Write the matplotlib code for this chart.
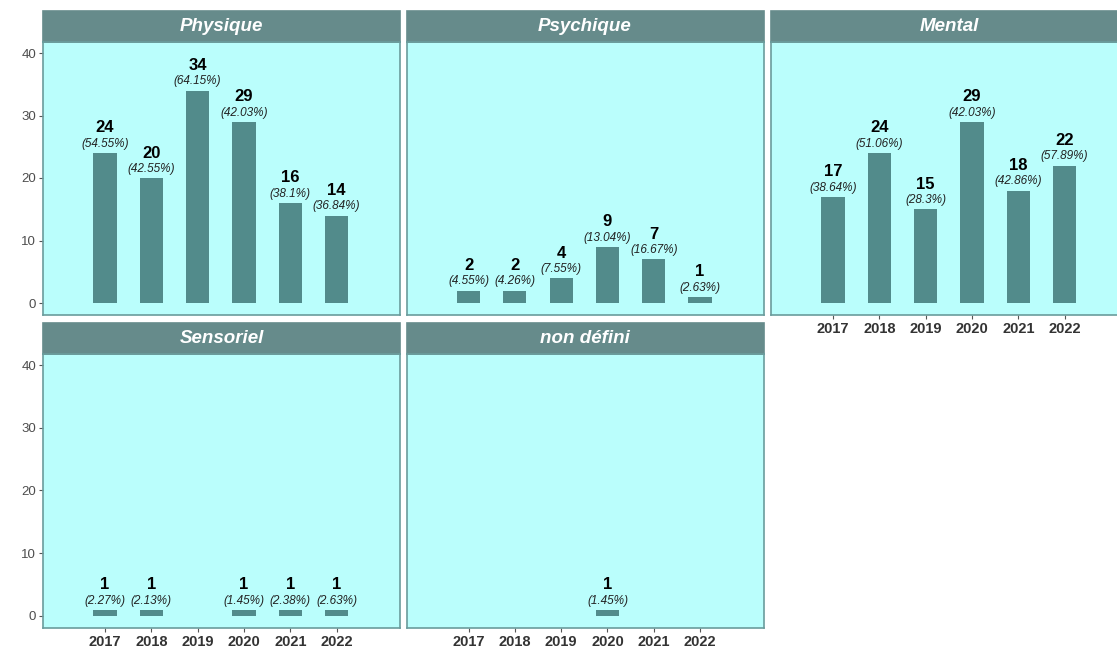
import matplotlib.pyplot as plt
from matplotlib.patches import Rectangle

plt.rcParams['font.family'] = ['Liberation Sans', 'DejaVu Sans']

years = [2017, 2018, 2019, 2020, 2021, 2022]

physique_years = [2017, 2018, 2019, 2020, 2021, 2022]
physique_n = [24, 20, 34, 29, 16, 14]
physique_pct = [54.55, 42.55, 64.15, 42.03, 38.1, 36.84]

psychique_years = [2017, 2018, 2019, 2020, 2021, 2022]
psychique_n = [2, 2, 4, 9, 7, 1]
psychique_pct = [4.55, 4.26, 7.55, 13.04, 16.67, 2.63]

mental_years = [2017, 2018, 2019, 2020, 2021, 2022]
mental_n = [17, 24, 15, 29, 18, 22]
mental_pct = [38.64, 51.06, 28.3, 42.03, 42.86, 57.89]

sensoriel_years = [2017, 2018, 2020, 2021, 2022]
sensoriel_n = [1, 1, 1, 1, 1]
sensoriel_pct = [2.27, 2.13, 1.45, 2.38, 2.63]

nondef_years = [2020]
nondef_n = [1]
nondef_pct = [1.45]

panels = [
    ("Physique", physique_years, physique_n, physique_pct),
    ("Psychique", psychique_years, psychique_n, psychique_pct),
    ("Mental", mental_years, mental_n, mental_pct),
    ("Sensoriel", sensoriel_years, sensoriel_n, sensoriel_pct),
    ("non défini", nondef_years, nondef_n, nondef_pct),
]

W, H = 1117, 651
fig = plt.figure(figsize=(W / 100, H / 100), dpi=100)

bg = '#BAFEFC'
bar_col = '#528B8B'
strip_col = '#668B8B'
border = '#6A9C9C'

col_x = [43, 406.5, 771]
pw = 357
rows = [(42, 315), (354, 628)]
strip_h = 31

for i, (name, yrs, n, pct) in enumerate(panels):
    r, c = divmod(i, 3)
    top, bot = rows[r]
    ax = fig.add_axes([col_x[c] / W, 1 - bot / H, pw / W, (bot - top) / H])
    ax.set_facecolor(bg)
    ax.bar(yrs, n, width=0.5, color=bar_col, zorder=2)
    for x, v, p in zip(yrs, n, pct):
        ax.annotate(f"({p:g}%)", (x, v), xytext=(0, 6.5), textcoords='offset points',
                    ha='center', va='center', fontsize=8.5, style='italic', color='#222222')
        ax.annotate(f"{v}", (x, v), xytext=(0, 18), textcoords='offset points',
                    ha='center', va='center', fontsize=12, fontweight='bold', color='black')
    ax.set_xlim(2015.66, 2023.37)
    ax.set_ylim(-1.92, 41.76)
    ax.set_xticks(years)
    ax.set_yticks([0, 10, 20, 30, 40])
    for s in ax.spines.values():
        s.set_color(border)
        s.set_linewidth(1.2)
    ax.tick_params(axis='both', length=3, color='#555555', width=0.8)
    ax.tick_params(axis='y', labelsize=9.5, labelcolor='#4D4D4D', pad=2)
    ax.tick_params(axis='x', labelsize=10.5, labelcolor='#333333', pad=2)
    for lab in ax.get_xticklabels():
        lab.set_fontweight('bold')
    if c != 0:
        ax.tick_params(axis='y', left=False, labelleft=False)
    if not (r == 1 or (r == 0 and c == 2)):
        ax.tick_params(axis='x', bottom=False, labelbottom=False)
    sh = strip_h / (bot - top)
    ax.add_patch(Rectangle((0, 1), 1, sh, transform=ax.transAxes, clip_on=False,
                           facecolor=strip_col, edgecolor=strip_col, linewidth=1.2))
    ax.text(0.5, 1 + sh / 2, name, transform=ax.transAxes, ha='center', va='center',
            fontsize=13.5, fontweight='bold', style='italic', color='white')

fig.savefig('out.png', dpi=100)
